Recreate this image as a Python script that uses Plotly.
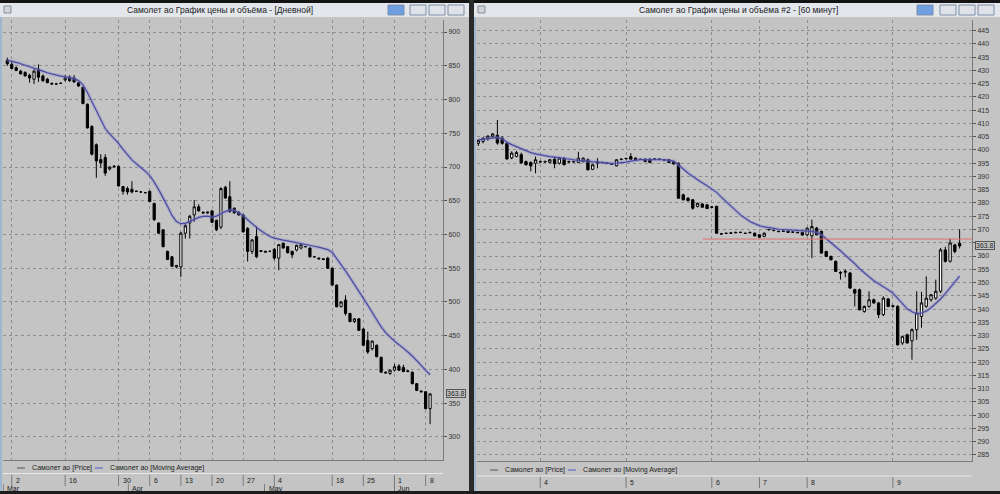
import plotly.graph_objects as go

W, H = 1000, 494

# ---------------- Daily chart (left window) ----------------
d_open = [858, 852, 847, 842, 840, 836, 830, 845, 835, 830, 824, 823, 824, 829, 833, 832, 825, 818, 793, 760,
          733, 711, 714, 697, 700, 701, 671, 668, 667, 664, 663, 662, 664, 646, 617, 607, 575, 567, 552, 552,
          602, 617, 629, 641, 633, 632, 635, 621, 611, 670, 656, 639, 633, 629, 609, 575, 597, 576, 575, 575,
          578, 565, 587, 582, 575, 577, 580, 582, 580, 567, 565, 564, 565, 550, 525, 493, 503, 483, 471, 475,
          460, 443, 431, 436, 418, 396, 394, 399, 405, 403, 398, 396, 379, 368, 367, 342]
d_high = [862, 856, 849, 844, 842, 838, 845, 852, 837, 832, 825, 824, 825, 836, 836, 836, 826, 819, 794, 762,
          735, 719, 719, 701, 703, 702, 672, 671, 679, 665, 664, 663, 665, 647, 618, 608, 576, 568, 555, 604,
          616, 629, 651, 645, 634, 634, 636, 622, 670, 672, 679, 640, 635, 630, 611, 593, 612, 577, 576, 576,
          580, 586, 588, 583, 576, 585, 587, 583, 581, 568, 566, 565, 567, 551, 526, 501, 510, 484, 476, 476,
          461, 456, 443, 437, 419, 397, 400, 408, 408, 407, 399, 397, 380, 369, 368, 365]
d_low = [850, 845, 842, 837, 834, 825, 823, 826, 826, 824, 822, 822, 823, 827, 826, 825, 819, 793, 757, 717,
         684, 699, 687, 695, 699, 671, 659, 659, 661, 663, 662, 661, 648, 620, 601, 581, 562, 552, 550, 537,
         594, 594, 619, 634, 631, 631, 617, 605, 608, 653, 632, 631, 628, 603, 560, 571, 565, 574, 573, 574,
         562, 547, 579, 572, 565, 575, 578, 581, 566, 566, 563, 562, 549, 525, 492, 492, 480, 470, 469, 457,
         435, 423, 428, 418, 395, 394, 392, 397, 398, 396, 396, 378, 368, 366, 341, 319]
d_close = [853, 846, 843, 838, 835, 832, 842, 833, 828, 825, 823, 823, 824, 832, 828, 826, 820, 794, 758, 719,
           709, 706, 691, 700, 701, 672, 664, 663, 663, 664, 663, 662, 649, 622, 602, 582, 563, 553, 554, 602,
           613, 627, 641, 635, 632, 633, 618, 607, 668, 654, 634, 632, 629, 604, 575, 592, 567, 575, 574, 575,
           565, 585, 580, 573, 570, 584, 585, 582, 567, 567, 564, 563, 550, 525, 493, 500, 483, 471, 475, 458,
           436, 426, 442, 419, 396, 395, 399, 404, 399, 397, 397, 379, 369, 367, 342, 363.8]
d_ma = [858.4, 857.0, 855.0, 853.0, 851.0, 848.5, 846.5, 844.5, 842.0, 839.6, 837.6, 836.0, 834.6, 833.6, 832.6,
        831.0, 828.0, 821.7, 810.3, 797.0, 783.0, 770.0, 757.0, 749.0, 742.0, 735.0, 726.0, 717.6, 710.6, 704.7,
        699.7, 693.8, 687.3, 678.0, 666.5, 655.0, 641.7, 628.3, 619.4, 616.0, 616.4, 619.4, 622.3, 625.3, 626.8,
        627.3, 625.8, 627.3, 630.8, 634.2, 636.2, 635.7, 632.3, 628.3, 621.8, 615.4, 610.4, 605.5, 601.0, 597.0,
        594.6, 592.6, 591.6, 590.6, 589.1, 587.6, 586.1, 585.1, 583.6, 582.6, 581.2, 579.7, 577.7, 573.7, 564.8,
        555.9, 546.0, 536.0, 526.1, 516.2, 506.3, 495.4, 484.4, 473.0, 463.1, 454.7, 448.2, 441.8, 436.8, 431.9,
        425.9, 420.0, 413.5, 406.1, 398.6, 392.2]
d_tick_idx = [1, 13, 25, 32, 39, 46, 53, 60, 73, 80, 87, 94]
d_tick_text = ['2', '16', '30', '6', '13', '20', '27', '4', '18', '25', '1', '8']
d_month_idx = [-0.9, 27.2, 57.8, 87]
d_month_text = ['Mar', 'Apr', 'May', 'Jun']
d_yticks = list(range(300, 901, 50))
d_last = 363.8

# ---------------- 60-minute chart (right window) ----------------
h_open = [402.5, 403.2, 404.2, 405.0, 405.5, 404.5, 402.5, 397.0, 397.6, 398.2, 395.6, 395.3, 395.0, 395.6, 395.5,
          395.3, 396.5, 395.0, 396.9, 395.6, 395.5, 395.3, 395.6, 396.3, 392.7, 395.6, 395.3, 395.0, 394.7, 394.0,
          396.4, 396.7, 397.5, 396.9, 396.5, 396.5, 396.5, 396.5, 396.6, 396.3, 396.3, 395.6, 395.0, 383.1, 381.8,
          381.2, 378.7, 379.6, 379.3, 378.5, 378.7, 368.4, 368.6, 368.6, 368.9, 368.9, 368.6, 368.9, 368.6, 368.0,
          367.4, 369.9, 369.6, 369.3, 369.4, 369.4, 369.1, 368.9, 368.9, 368.0, 367.6, 370.5, 369.3, 361.7, 359.8,
          358.0, 353.8, 353.9, 353.6, 347.3, 347.3, 339.1, 341.0, 343.5, 342.3, 337.9, 343.8, 341.0, 341.0, 327.2,
          330.3, 328.0, 332.2, 337.2, 341.0, 343.5, 344.1, 346.7, 362.3, 358.0, 364.2, 364.8]
h_high = [404.0, 404.8, 405.5, 406.4, 411.3, 405.2, 403.0, 399.5, 399.7, 399.0, 396.0, 395.6, 397.5, 396.0, 396.0,
          396.6, 397.5, 397.4, 397.3, 396.0, 396.0, 399.3, 397.2, 396.8, 394.6, 396.9, 395.6, 395.3, 395.0, 396.5,
          396.8, 397.0, 398.8, 397.2, 396.8, 396.9, 396.9, 396.9, 396.9, 396.6, 396.6, 395.9, 395.3, 383.5, 382.2,
          381.5, 380.1, 380.0, 379.6, 378.9, 379.0, 368.7, 368.9, 368.9, 369.2, 369.2, 368.9, 369.2, 368.9, 368.3,
          368.9, 370.2, 369.9, 369.6, 369.7, 369.7, 369.4, 369.2, 369.2, 370.8, 373.7, 371.0, 369.6, 362.0, 360.2,
          358.3, 354.3, 355.0, 354.0, 347.7, 347.7, 341.3, 346.7, 344.0, 342.7, 344.8, 344.2, 341.6, 341.5, 329.9,
          330.7, 332.7, 346.7, 346.5, 352.3, 345.5, 351.1, 363.0, 363.5, 366.5, 364.6, 370.0]
h_low = [401.5, 402.5, 403.5, 404.6, 402.0, 402.0, 396.3, 396.5, 397.2, 394.8, 394.2, 391.9, 391.2, 395.2, 395.2,
         395.0, 393.1, 394.5, 394.2, 395.2, 395.2, 395.0, 395.3, 392.3, 392.4, 393.1, 395.0, 394.7, 394.4, 393.8,
         396.1, 396.4, 396.3, 396.1, 396.2, 395.4, 395.0, 396.2, 396.2, 396.0, 395.2, 394.5, 381.5, 380.9, 380.5,
         377.5, 378.3, 378.2, 377.7, 378.0, 368.3, 368.1, 368.3, 368.3, 368.6, 368.6, 368.3, 368.6, 367.4, 366.9,
         367.1, 369.6, 369.3, 369.0, 369.1, 368.7, 368.8, 368.6, 367.7, 367.5, 359.2, 367.8, 360.8, 359.6, 358.3,
         354.0, 351.1, 352.0, 347.6, 341.0, 339.5, 338.6, 340.5, 342.0, 336.6, 337.3, 340.7, 340.5, 326.3, 326.5,
         327.0, 320.9, 328.4, 333.0, 340.5, 342.8, 343.5, 346.0, 357.5, 357.5, 361.0, 362.8]
h_close = [403.6, 404.4, 405.2, 406.0, 402.6, 402.5, 396.6, 398.8, 399.0, 395.1, 394.4, 394.0, 396.3, 395.5, 395.6,
           396.3, 394.8, 396.9, 394.4, 395.5, 395.6, 396.9, 396.9, 392.5, 394.4, 395.0, 395.2, 394.9, 394.6, 396.3,
           396.5, 396.8, 396.5, 396.3, 396.4, 395.6, 395.3, 396.6, 396.4, 396.2, 395.3, 394.7, 381.8, 381.2, 380.9,
           378.0, 379.9, 378.4, 377.9, 378.4, 368.6, 368.3, 368.5, 368.7, 368.8, 368.9, 368.5, 368.8, 367.6, 367.1,
           368.6, 370.0, 369.7, 369.2, 369.3, 368.9, 369.0, 368.8, 367.9, 370.5, 371.1, 368.0, 361.1, 359.8, 358.6,
           354.2, 353.6, 354.2, 347.9, 346.0, 339.7, 341.0, 343.5, 342.3, 337.9, 344.1, 341.0, 341.2, 326.5, 329.7,
           327.2, 332.2, 338.5, 342.3, 344.1, 345.4, 346.7, 362.3, 358.0, 364.9, 361.7, 363.8]
h_ma = [403.8, 404.0, 404.3, 404.5, 404.7, 404.3, 402.9, 402.0, 401.2, 400.4, 399.7, 399.0, 398.5, 398.1, 397.9,
        397.5, 397.3, 397.0, 396.8, 396.5, 396.3, 396.1, 396.0, 395.8, 395.5, 395.3, 395.1, 395.0, 394.9, 395.0,
        395.1, 395.4, 395.8, 396.1, 396.3, 396.4, 396.4, 396.4, 396.4, 396.3, 396.1, 395.8, 394.4, 392.7, 391.2,
        390.0, 388.7, 387.6, 386.5, 385.3, 384.0, 382.2, 380.4, 378.8, 377.2, 375.5, 374.2, 373.0, 372.2, 371.4,
        371.0, 370.6, 370.4, 370.1, 370.0, 369.9, 369.8, 369.6, 369.5, 369.4, 369.3, 368.9, 368.0, 366.5, 365.1,
        363.6, 362.0, 360.3, 358.8, 357.1, 355.2, 353.6, 352.0, 350.7, 349.5, 348.5, 347.3, 346.0, 344.1, 342.0,
        340.1, 339.0, 338.3, 338.5, 339.2, 340.5, 342.0, 343.8, 345.8, 347.9, 350.0, 352.4]
h_tick_idx = [13, 31, 49, 59, 69, 87]
h_tick_text = ['4', '5', '6', '7', '8', '9']
h_yticks = list(range(285, 446, 5))
h_ytick_text = ['' if v == 365 else str(v) for v in h_yticks]   # 365 is covered by the last-price box
h_level = 366.4       # red horizontal level line
h_level_start = 47.1
h_last = 363.8

BG = '#c4c4c4'
GRID = '#8e8e8e'
FONT = 'Liberation Sans'

def px(x):
    return x / W

def py(y):
    return 1 - y / H

fig = go.Figure()

candle_style = dict(
    increasing=dict(fillcolor='#ffffff', line=dict(color='#000000', width=1)),
    decreasing=dict(fillcolor='#000000', line=dict(color='#000000', width=1)),
    whiskerwidth=0, showlegend=False, hoverinfo='skip')

ma_glow = dict(color='rgba(130,130,215,0.35)', width=3.5)
ma_line = dict(color='#4b4b9c', width=1.2)

fig.add_trace(go.Scatter(x=list(range(len(d_ma))), y=d_ma, mode='lines', xaxis='x', yaxis='y',
                         line=ma_glow, showlegend=False, hoverinfo='skip'))
fig.add_trace(go.Candlestick(x=list(range(len(d_open))), open=d_open, high=d_high, low=d_low, close=d_close,
                             xaxis='x', yaxis='y', **candle_style))
fig.add_trace(go.Scatter(x=list(range(len(d_ma))), y=d_ma, mode='lines', xaxis='x', yaxis='y',
                         line=ma_line, showlegend=False, hoverinfo='skip'))
fig.add_trace(go.Scatter(x=list(range(len(h_ma))), y=h_ma, mode='lines', xaxis='x2', yaxis='y2',
                         line=ma_glow, showlegend=False, hoverinfo='skip'))
fig.add_trace(go.Candlestick(x=list(range(len(h_open))), open=h_open, high=h_high, low=h_low, close=h_close,
                             xaxis='x2', yaxis='y2', **candle_style))
fig.add_trace(go.Scatter(x=list(range(len(h_ma))), y=h_ma, mode='lines', xaxis='x2', yaxis='y2',
                         line=ma_line, showlegend=False, hoverinfo='skip'))

# plot areas in pixels
L_X0, L_X1, L_Y0, L_Y1 = 3, 443, 20, 460
R_X0, R_X1, R_Y0, R_Y1 = 477, 972, 20, 461

axis_common = dict(showline=True, linecolor='#7a7a7a', linewidth=1, mirror=False, zeroline=False,
                   gridcolor=GRID, griddash='dot', gridwidth=1)

fig.update_layout(
    width=W, height=H, margin=dict(l=0, r=0, t=0, b=0),
    paper_bgcolor=BG, plot_bgcolor=BG,
    font=dict(family=FONT, size=8, color='#222222'),
    xaxis=dict(domain=[px(L_X0), px(L_X1)], range=[-0.97, 97.9], tickvals=d_tick_idx, showticklabels=False,
               ticks='', rangeslider=dict(visible=False), anchor='y', **axis_common),
    yaxis=dict(domain=[py(L_Y1), py(L_Y0)], range=[265.9, 917.8], side='right', tickvals=d_yticks,
               ticks='outside', ticklen=3, tickcolor='#555555', tickfont=dict(size=7, color='#333333'),
               anchor='x', **axis_common),
    xaxis2=dict(domain=[px(R_X0), px(R_X1)], range=[-0.28, 103.6], tickvals=h_tick_idx, showticklabels=False,
                ticks='', rangeslider=dict(visible=False), anchor='y2', **axis_common),
    yaxis2=dict(domain=[py(R_Y1), py(R_Y0)], range=[282.7, 449.0], side='right', tickvals=h_yticks,
                ticktext=h_ytick_text,
                ticks='outside', ticklen=3, tickcolor='#555555', tickfont=dict(size=7, color='#333333'),
                anchor='x2', **axis_common),
    hovermode=False,
)

shapes = []
ann = []

def rect(x0, y0, x1, y1, fill, line=None, lw=0):
    shapes.append(dict(type='rect', xref='paper', yref='paper', x0=px(x0), x1=px(x1), y0=py(y1), y1=py(y0),
                       fillcolor=fill, line=dict(color=line or fill, width=lw)))

def hline(x0, x1, y, color, w=1):
    shapes.append(dict(type='line', xref='paper', yref='paper', x0=px(x0), x1=px(x1), y0=py(y), y1=py(y),
                       line=dict(color=color, width=w)))

def text(x, y, s, size=8, color='#222222', xanchor='left'):
    ann.append(dict(xref='paper', yref='paper', x=px(x), y=py(y), text=s, showarrow=False, xanchor=xanchor,
                    yanchor='middle', font=dict(size=size, color=color, family=FONT)))

# top dark strip and title bars
rect(0, 0, W, 3, '#141414')
rect(0, 3, 469, 17, '#e3e6eb')
rect(474, 3, W, 17, '#e3e6eb')
# window separator
rect(469, 0, 474, H, '#2a2a2a')
# left borders
rect(0, 17, 2, 494, '#9fb6cf')
rect(474, 17, 476, 494, '#9fb6cf')
# bottom dark strip
rect(0, 491, W, 494, '#1c1c1c')

text(220, 10, 'Самолет ао График цены и объёма - [Дневной]', size=8.5, xanchor='center')
text(738, 10, 'Самолет ао График цены и объёма #2 - [60 минут]', size=8.5, xanchor='center')
# window icons
rect(4, 6, 11, 13, '#d0d4da', '#8a8f96', 1)
rect(478, 6, 485, 13, '#d0d4da', '#8a8f96', 1)
# buttons
for (bx, blue) in [(388, True), (410, False), (429, False), (448, False),
                   (917, True), (940, False), (959, False), (978, False)]:
    rect(bx, 5, bx + 16, 15, '#6f9fe0' if blue else '#dfe3e9', '#7d8fa8', 1)

# legends
for (x0, lx, ly) in [(17, 30, 468), (490, 503, 470)]:
    hline(x0, x0 + 8, ly, '#555555', 1)
    text(lx, ly, 'Самолет ао [Price]', size=7)
for (x0, lx, ly) in [(95, 108, 468), (568, 581, 470)]:
    hline(x0, x0 + 8, ly, '#7d7dc8', 1.5)
    text(lx, ly, 'Самолет ао [Moving Average]', size=7)

# date strips
hline(3, 443, 473.5, '#e8e8e8', 1)
hline(477, 972, 476, '#e8e8e8', 1)

for i, t in zip(d_tick_idx, d_tick_text):
    shapes.append(dict(type='line', xref='x', yref='paper', x0=i, x1=i, y0=py(486), y1=py(475),
                       line=dict(color='#7a7a7a', width=1)))
    ann.append(dict(xref='x', yref='paper', x=i, y=py(480), text=t, showarrow=False, xanchor='left', xshift=2,
                    yanchor='middle', font=dict(size=7, color='#222222', family=FONT)))
for i, t in zip(d_month_idx, d_month_text):
    shapes.append(dict(type='line', xref='x', yref='paper', x0=i, x1=i, y0=py(491), y1=py(484),
                       line=dict(color='#7a7a7a', width=1)))
    ann.append(dict(xref='x', yref='paper', x=i, y=py(488.5), text=t, showarrow=False, xanchor='left', xshift=2,
                    yanchor='middle', font=dict(size=7, color='#222222', family=FONT)))
for i, t in zip(h_tick_idx, h_tick_text):
    shapes.append(dict(type='line', xref='x2', yref='paper', x0=i, x1=i, y0=py(488), y1=py(477),
                       line=dict(color='#7a7a7a', width=1)))
    ann.append(dict(xref='x2', yref='paper', x=i, y=py(482), text=t, showarrow=False, xanchor='left', xshift=2,
                    yanchor='middle', font=dict(size=7, color='#222222', family=FONT)))

# red level line on 60-minute chart
shapes.append(dict(type='line', xref='x2', yref='y2', x0=h_level_start, x1=103.6, y0=h_level, y1=h_level,
                   line=dict(color='#e07070', width=1)))

# last price boxes
ann.append(dict(xref='paper', yref='y', x=px(446), y=d_last, text=f'{d_last}', showarrow=False, xanchor='left',
                yanchor='middle', font=dict(size=7, color='#222222', family=FONT), bgcolor=BG,
                bordercolor='#555555', borderwidth=1, borderpad=0))
ann.append(dict(xref='paper', yref='y2', x=px(975), y=h_last, text=f'{h_last}', showarrow=False, xanchor='left',
                yanchor='middle', font=dict(size=7, color='#222222', family=FONT), bgcolor=BG,
                bordercolor='#555555', borderwidth=1, borderpad=0))

fig.update_layout(shapes=shapes, annotations=ann)
fig.write_html('out.html')
